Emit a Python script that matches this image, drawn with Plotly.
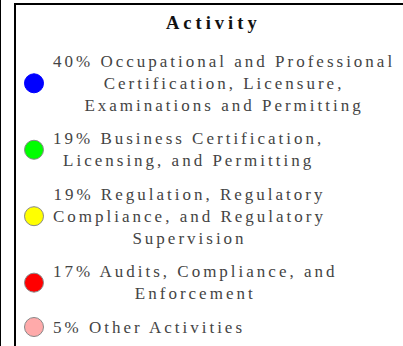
import textwrap

import plotly.graph_objects as go

# Share of activities (percent)
activities = [
    "Occupational and Professional Certification, Licensure, Examinations and Permitting",
    "Business Certification, Licensing, and Permitting",
    "Regulation, Regulatory Compliance, and Regulatory Supervision",
    "Audits, Compliance, and Enforcement",
    "Other Activities",
]
shares = [40, 19, 19, 17, 5]
colors = ["#0000ff", "#00ff00", "#ffff00", "#ff0000", "#ffaaaa"]
outlines = ["#0000ff", "#888888", "#888888", "#888888", "#888888"]
legend_title = "Activity"

W, H = 403, 346
FONT = "Liberation Serif, Times New Roman, serif"
SIZE = 17
LINE = 1.3 * SIZE  # plotly's multi-line spacing
GAP = 11.2

# wrap each label the way the legend does
lines = [textwrap.wrap(f"{s}% {a}", 33) for s, a in zip(shares, activities)]

# vertical centre of each entry, stacked by line count
ys = []
y = 83.3
for i, ln in enumerate(lines):
    if i > 0:
        y += (len(lines[i - 1]) + len(ln)) / 2 * LINE + GAP
    ys.append(y)

fig = go.Figure()
fig.add_trace(
    go.Scatter(
        x=[34] * len(shares),
        y=ys,
        mode="markers",
        marker=dict(size=19, color=colors, line=dict(color=outlines, width=1)),
        hoverinfo="skip",
    )
)

for ln, yc in zip(lines, ys):
    text = "<br>".join(
        f"<span style='letter-spacing:3px'>{t}</span>" for t in ln
    )
    fig.add_annotation(
        x=51, y=yc, xref="x", yref="y",
        text=text, showarrow=False,
        xanchor="left", yanchor="middle", align="center",
        font=dict(family=FONT, size=SIZE, color="#444444"),
    )

fig.add_annotation(
    x=213, y=23, xref="x", yref="y",
    text=f"<b><span style='letter-spacing:4px'>{legend_title}</span></b>",
    showarrow=False, xanchor="center", yanchor="middle",
    font=dict(family=FONT, size=18.5, color="#111111"),
)

# legend frame and the edge line on the left
fig.add_shape(type="rect", x0=15, x1=W + 30, y0=4, y1=H + 60,
              line=dict(color="black", width=2))
fig.add_shape(type="line", x0=0.5, x1=0.5, y0=0, y1=H,
              line=dict(color="black", width=1))

fig.update_layout(
    width=W,
    height=H,
    margin=dict(l=0, r=0, t=0, b=0),
    paper_bgcolor="white",
    plot_bgcolor="white",
    showlegend=False,
    hovermode=False,
    xaxis=dict(range=[0, W], visible=False, fixedrange=True),
    yaxis=dict(range=[H, 0], visible=False, fixedrange=True),
)

# drop the page's default 8px body margin so the figure sits at the corner
fig.write_html(
    "out.html",
    config=dict(displayModeBar=False),
    post_script="document.body.style.margin='0';",
)
